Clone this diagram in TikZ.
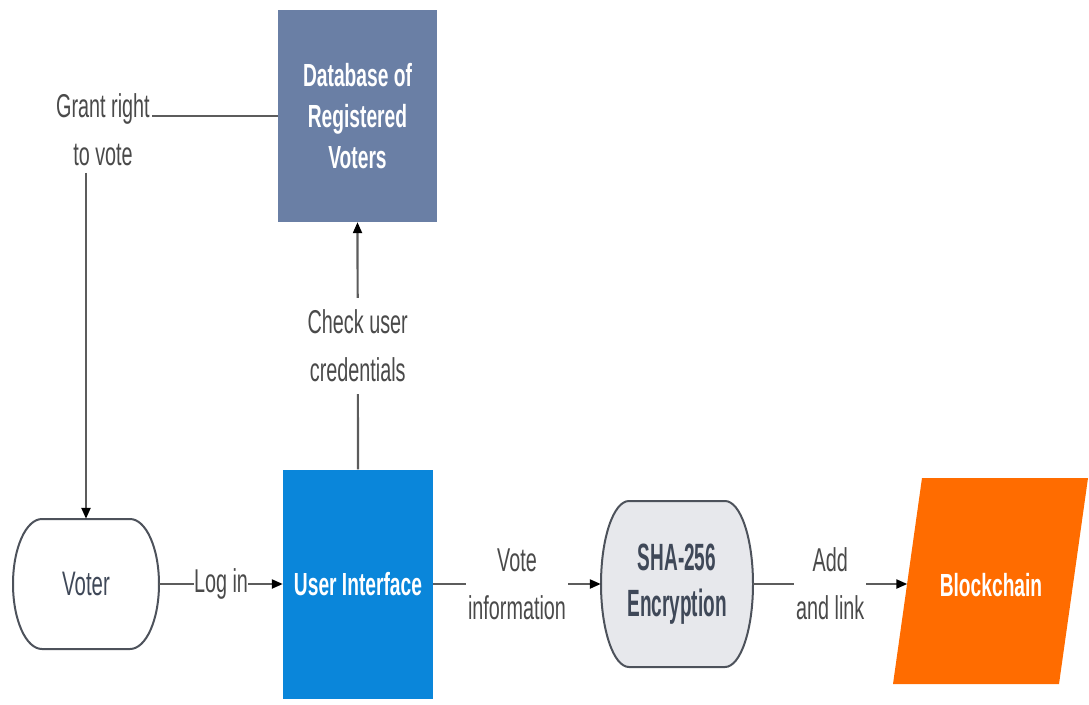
\documentclass[tikz,border=0pt]{standalone}
\usepackage{fontspec}
\setmainfont{Liberation Sans}[FakeStretch=0.6]
\newfontfamily\narrowsans{Liberation Sans}[FakeStretch=0.5]
\usetikzlibrary{arrows.meta}

\definecolor{dbblue}{HTML}{6A7FA5}
\definecolor{uiblue}{HTML}{0A86DA}
\definecolor{bcorange}{HTML}{FF6C00}
\definecolor{shagray}{HTML}{E7E8EC}
\definecolor{edgegray}{HTML}{4D525B}
\definecolor{linegray}{HTML}{5C5C5C}
\definecolor{labelgray}{HTML}{4A4A4A}
\definecolor{darktext}{HTML}{3F4858}

\begin{document}
\begin{tikzpicture}[x=1pt,y=-1pt,
  box/.style={inner sep=0pt, align=center, text=white,
    font=\fontsize{32}{41}\selectfont\bfseries},
  lbl/.style={align=center, text=labelgray, fill=white,
    font=\fontsize{33}{48}\selectfont, inner xsep=2pt, inner ysep=3pt},
  conn/.style={draw=linegray, line width=2.2pt},
  arr/.style={conn, -{Triangle[length=11pt,width=9pt,color=black]}},
  outline/.style={draw=edgegray, line width=2pt}
]
\useasboundingbox (0,0) rectangle (1089,704);

% database and user interface boxes
\node[box, fill=dbblue, minimum width=159pt, minimum height=212pt]
  (db) at (357.5,116) {Database of\\Registered\\Voters};
\node[box, fill=uiblue, minimum width=150pt, minimum height=229pt]
  (ui) at (358,584) {User Interface};

% voter terminal
\draw[outline, fill=white] (42,519) -- (130,519)
  arc[start angle=-90, end angle=90, x radius=29, y radius=65]
  -- (42,649)
  arc[start angle=90, end angle=270, x radius=29, y radius=65] -- cycle;
\node[inner sep=0pt, minimum width=146pt, minimum height=130pt,
  text=darktext, font=\fontsize{34}{41}\selectfont]
  (voter) at (86,584) {Voter};

% hashing step
\draw[outline, fill=shagray] (629,501) -- (725,501)
  arc[start angle=-90, end angle=90, x radius=28, y radius=83]
  -- (629,667)
  arc[start angle=90, end angle=270, x radius=28, y radius=83] -- cycle;
\node[inner sep=0pt, minimum width=152pt, minimum height=166pt, align=center,
  text=darktext, font=\narrowsans\fontsize{38}{46}\selectfont\bfseries]
  (sha) at (677,584) {SHA-256\\Encryption};

% blockchain store
\fill[bcorange] (922,478) -- (1088,478) -- (1059,684) -- (893,684) -- cycle;
\node[box] (bc) at (991,585) {Blockchain};
\coordinate (bcin) at (907.3,584);

% connectors
\node[lbl] (grant) at (103,129.5) {Grant right\\to vote};
\draw[conn] (db.west) -- (db.west -| grant.east);
\draw[arr, shorten <=4pt] (grant.south -| voter.north) -- (voter.north);

\draw[arr] (ui.north) -- node[lbl, inner ysep=12pt] {Check user\\credentials} (db.south);
\draw[arr] (voter.east) -- node[lbl, inner xsep=0pt] {Log in} (ui.west);
\draw[arr] (ui.east) -- node[lbl] {Vote\\information} (sha.west);
\draw[arr] (sha.east) -- node[lbl] {Add\\and link} (bcin);
\end{tikzpicture}
\end{document}
